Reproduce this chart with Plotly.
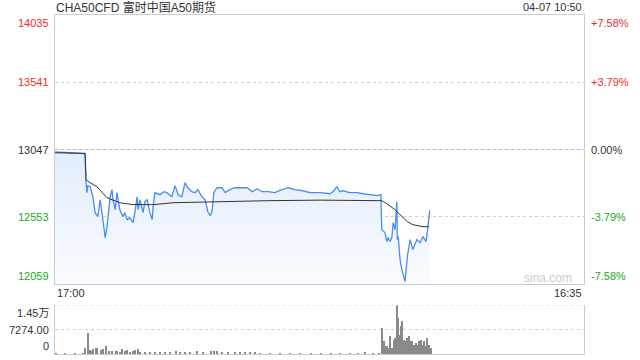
import plotly.graph_objects as go

# ---------------- data ----------------
title_text = "CHA50CFD 富时中国A50期货"
stamp_text = "04-07 10:50"
time_labels = ["17:00", "16:35"]
session_minutes = 1160          # 17:00 -> 16:35 trading minutes

prev_close = 13047
price_ticks = [12059, 12553, 13047, 13541, 14035]
pct_ticks = ["-7.58%", "-3.79%", "0.00%", "+3.79%", "+7.58%"]
vol_ticks = [0, 7274, 14548]
vol_tick_text = ["0", "7274.00", "1.45万"]

price_min = [0, 12, 34, 56, 67, 69, 71, 73, 78, 84, 89, 95, 100, 104, 111, 115, 117, 122,
             126, 128, 133, 137, 143, 150, 154, 159, 165, 172, 176, 181, 183, 187, 194, 198,
             203, 209, 214, 216, 220, 231, 240, 246, 257, 264, 271, 279, 286, 292, 301, 308,
             314, 323, 330, 336, 341, 345, 349, 356, 367, 374, 384, 395, 411, 422, 433, 444,
             455, 468, 483, 498, 512, 527, 544, 560, 582, 604, 610, 619, 625, 632, 647, 663,
             676, 691, 707, 715, 717, 724, 728, 731, 735, 739, 742, 746, 750, 751, 753, 757,
             761, 768, 773, 779, 785, 794, 801, 807, 814, 818, 822]
price = [13030, 13026, 13023, 13019, 13015, 12810, 12730, 12781, 12774, 12700, 12583, 12554,
         12678, 12583, 12400, 12480, 12554, 12700, 12752, 12678, 12605, 12730, 12605, 12554,
         12583, 12532, 12546, 12510, 12583, 12700, 12605, 12678, 12583, 12664, 12678, 12583,
         12532, 12627, 12730, 12715, 12737, 12730, 12700, 12781, 12715, 12700, 12803, 12766,
         12737, 12730, 12752, 12700, 12678, 12590, 12561, 12590, 12730, 12766, 12766, 12730,
         12752, 12766, 12766, 12766, 12737, 12759, 12737, 12737, 12730, 12752, 12766, 12752,
         12744, 12730, 12730, 12722, 12737, 12774, 12737, 12744, 12730, 12730, 12722, 12715,
         12708, 12715, 12458, 12437, 12371, 12400, 12371, 12400, 12510, 12458, 12664, 12385,
         12407, 12239, 12165, 12077, 12261, 12385, 12312, 12385, 12363, 12407, 12371, 12480,
         12600]

avg_min = [0, 67, 69, 78, 93, 106, 115, 126, 143, 172, 216, 260, 347, 466, 582, 717, 728,
           746, 757, 773, 785, 807, 820]
avg_price = [13023, 13019, 12825, 12803, 12774, 12730, 12693, 12678, 12656, 12642, 12642,
             12656, 12664, 12671, 12675, 12671, 12649, 12605, 12568, 12517, 12495, 12480, 12480]

vol_min = [3, 23, 45, 62, 67, 72, 76, 80, 84, 89, 93, 100, 106, 113, 119, 126, 133, 137, 143,
           148, 154, 159, 165, 172, 176, 181, 187, 198, 209, 220, 231, 242, 253, 266, 275, 286,
           297, 312, 325, 341, 349, 356, 367, 380, 395, 406, 417, 428, 439, 450, 472, 494, 516,
           538, 560, 582, 604, 625, 647, 665, 680, 696, 709,
           717, 720, 724, 728, 731, 735, 739, 742, 746, 750, 752, 755, 758, 761, 764, 768, 772,
           775, 779, 783, 786, 790, 793, 797, 801, 804, 808, 812, 816, 819, 823]
volume = [100, 100, 100, 150, 1800, 6200, 1300, 1000, 1500, 1800, 1800, 1200, 1500, 2300, 1000,
          1000, 800, 1000, 700, 1600, 800, 1300, 700, 800, 1300, 1600, 600, 500, 400, 500, 400,
          500, 400, 1000, 500, 600, 600, 1000, 500, 800, 800, 800, 400, 400, 400, 500, 700, 400,
          300, 200, 150, 150, 150, 150, 150, 150, 150, 150, 150, 150, 500, 100, 100,
          7720, 3750, 2260, 2260, 1780, 5230, 1780, 4250, 4750, 14548, 10700, 5730, 8200, 9690,
          4250, 3750, 4750, 5230, 3750, 3750, 2760, 3250, 2760, 3750, 4250, 2760, 3750, 2260,
          4750, 2760, 1780]

# ---------------- styling ----------------
W, H = 640, 360
FONT = "Arial, Liberation Sans, Noto Sans CJK SC, sans-serif"
RED, GREEN, DARK = "#f02c2c", "#22a822", "#333333"
BORDER = "#cccccc"
px_x = lambda p: p / W
px_y = lambda p: 1 - p / H
x0, x1 = px_x(54.5), px_x(584)
price_dom = [px_y(284), px_y(15)]
vol_dom = [px_y(354), px_y(305)]

fig = go.Figure()

fig.add_trace(go.Scatter(
    x=price_min, y=price, mode="lines", xaxis="x", yaxis="y",
    line=dict(color="#4a8cf0", width=1.3), fill="tozeroy",
    fillgradient=dict(type="vertical", start=price_ticks[0], stop=prev_close,
                      colorscale=[[0, "rgba(250,252,255,1)"], [1, "rgba(226,236,252,1)"]]),
    hoverinfo="skip", showlegend=False))
fig.add_trace(go.Scatter(
    x=avg_min, y=avg_price, mode="lines", xaxis="x", yaxis="y",
    line=dict(color="#333333", width=1), hoverinfo="skip", showlegend=False))
fig.add_trace(go.Bar(
    x=vol_min, y=volume, xaxis="x2", yaxis="y2", width=2.6,
    marker=dict(color="#8a8a8a", line=dict(width=0)), hoverinfo="skip", showlegend=False))

fig.update_layout(
    width=W, height=H, margin=dict(l=0, r=0, t=0, b=0),
    paper_bgcolor="white", plot_bgcolor="rgba(0,0,0,0)",
    font=dict(family=FONT, size=11, color=DARK),
    bargap=0,
    xaxis=dict(domain=[x0, x1], range=[0, session_minutes], showgrid=False, zeroline=False,
               showticklabels=False, ticks="", showline=True, linecolor=BORDER, linewidth=1,
               mirror=True, anchor="y"),
    yaxis=dict(domain=price_dom, range=[price_ticks[0], price_ticks[-1]],
               tickvals=[price_ticks[1], price_ticks[3]], showticklabels=False, ticks="",
               showgrid=True, gridcolor="#cfcfcf", griddash="dot", gridwidth=1, zeroline=False,
               showline=True, linecolor=BORDER, linewidth=1, mirror=True, anchor="x"),
    xaxis2=dict(domain=[x0, x1], range=[0, session_minutes], showgrid=False, zeroline=False,
                showticklabels=False, ticks="", showline=True, linecolor=BORDER, linewidth=1,
                anchor="y2"),
    yaxis2=dict(domain=vol_dom, range=[0, vol_ticks[-1]], tickvals=vol_ticks[1:],
                showticklabels=False, ticks="", showgrid=True, gridcolor="#cfcfcf",
                griddash="dot", zeroline=False, showline=True, linecolor=BORDER, linewidth=1,
                mirror=True, anchor="x2"),
)

# previous-close dashed line
fig.add_shape(type="line", xref="x", yref="y", x0=0, x1=session_minutes,
              y0=prev_close, y1=prev_close, line=dict(color="#bbbbbb", width=1, dash="4px,2px"))
# top dotted line of volume panel
fig.add_shape(type="line", xref="x2", yref="y2", x0=0, x1=session_minutes,
              y0=vol_ticks[-1], y1=vol_ticks[-1], line=dict(color="#cfcfcf", width=1, dash="dot"))

ann = []
def label_color(v):
    return RED if v > prev_close else (GREEN if v < prev_close else DARK)

for i, v in enumerate(price_ticks):
    anchor = "bottom" if i == 0 else ("top" if i == len(price_ticks) - 1 else "middle")
    shift = 0
    ann.append(dict(x=px_x(51), xref="paper", y=v, yref="y", text=str(v), showarrow=False,
                    xanchor="right", yanchor=anchor, font=dict(color=label_color(v), size=11)))
    ann.append(dict(x=px_x(589), xref="paper", y=v, yref="y", text=pct_ticks[i], showarrow=False,
                    xanchor="left", yanchor=anchor, font=dict(color=label_color(v), size=11)))

for i, v in enumerate(vol_ticks):
    anchor = "bottom" if i == 0 else ("top" if i == len(vol_ticks) - 1 else "middle")
    ann.append(dict(x=px_x(51), xref="paper", y=v, yref="y2", text=vol_tick_text[i],
                    showarrow=False, xanchor="right", yanchor=anchor,
                    font=dict(color=DARK, size=11)))

ann.append(dict(x=x0, xref="paper", y=px_y(293), yref="paper", text=time_labels[0],
                showarrow=False, xanchor="left", yanchor="middle", font=dict(size=11, color=DARK)))
ann.append(dict(x=x1, xref="paper", y=px_y(293), yref="paper", text=time_labels[1],
                showarrow=False, xanchor="right", yanchor="middle", font=dict(size=11, color=DARK)))
ann.append(dict(x=px_x(54), xref="paper", y=px_y(7), yref="paper", text=title_text,
                showarrow=False, xanchor="left", yanchor="middle", font=dict(size=12, color=DARK)))
ann.append(dict(x=x1, xref="paper", y=px_y(7), yref="paper", text=stamp_text,
                showarrow=False, xanchor="right", yanchor="middle", font=dict(size=11, color=DARK)))
ann.append(dict(x=px_x(574), xref="paper", y=px_y(278), yref="paper", text="sina.com",
                showarrow=False, xanchor="right", yanchor="middle", font=dict(size=12, color="#cccccc")))

fig.update_layout(annotations=ann)
fig.write_html("out.html")
